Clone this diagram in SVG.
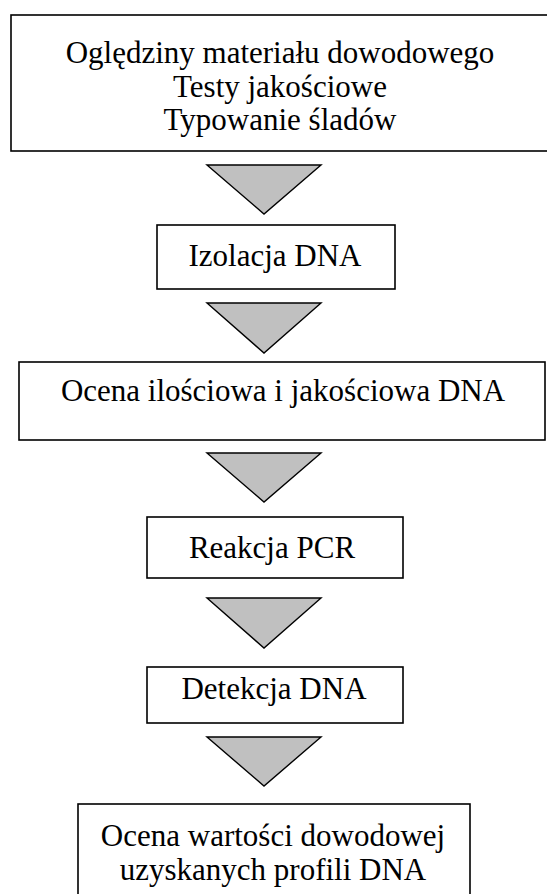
<svg xmlns="http://www.w3.org/2000/svg" width="547" height="894" viewBox="0 0 547 894">
<style>
.box{fill:#fff;stroke:#000;stroke-width:1.6}
.arr{fill:#c0c0c0;stroke:#000;stroke-width:1.4;stroke-linejoin:miter}
text{font-family:"Liberation Serif","Times New Roman",serif;font-size:31px;fill:#000;text-anchor:middle}
</style>
<rect width="547" height="894" fill="#fff"/>
<g id="n1"><rect class="box" x="11" y="15" width="560" height="136"/>
<text x="280" y="63">Oględziny materiału dowodowego</text>
<text x="280" y="97">Testy jakościowe</text>
<text x="280" y="130">Typowanie śladów</text></g>
<g id="n2"><rect class="box" x="157" y="225" width="238" height="64"/><text x="275" y="266">Izolacja DNA</text></g>
<g id="n3"><rect class="box" x="19" y="362" width="526" height="78"/><text x="283" y="401">Ocena ilościowa i jakościowa DNA</text></g>
<g id="n4"><rect class="box" x="147" y="517" width="256" height="61"/><text x="272" y="558">Reakcja PCR</text></g>
<g id="n5"><rect class="box" x="147" y="667" width="256" height="56"/><text x="274" y="699">Detekcja DNA</text></g>
<g id="n6"><rect class="box" x="78" y="804" width="392" height="110"/>
<text x="273" y="846">Ocena wartości dowodowej</text>
<text x="273" y="880">uzyskanych profili DNA</text></g>
<g id="connectors">
<polygon class="arr" points="207,165 321,165 264,214"/>
<polygon class="arr" points="207,303 321,303 264,353"/>
<polygon class="arr" points="207,453 321,453 264,502"/>
<polygon class="arr" points="207,598 321,598 264,648"/>
<polygon class="arr" points="207,737 321,737 264,786"/>
</g>
</svg>
